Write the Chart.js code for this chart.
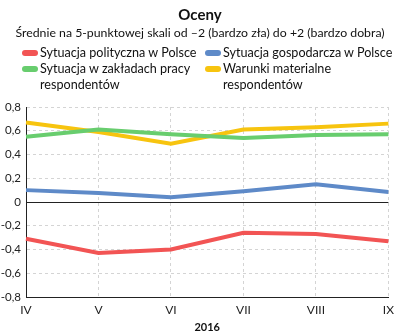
<!DOCTYPE html>
<html>
<head>
<meta charset="utf-8">
<script src="https://cdn.jsdelivr.net/npm/chart.js@4"></script>
<style>
  body { margin: 0; background: #fff; font-family: Lato, "Noto Sans", sans-serif; color: #111; }
  #box { position: relative; width: 400px; height: 334px; }
  #tytul { position: absolute; top: 5px; left: 0; width: 400px; text-align: center; font-weight: bold; font-size: 15px; }
  #podtytul { position: absolute; top: 25px; left: 0; width: 400px; text-align: center; font-size: 12.3px; }
  .leg { position: absolute; font-size: 12.6px; line-height: 16px; }
  .leg i { position: absolute; left: -18px; top: 5px; width: 16px; height: 6px; border-radius: 3px; }
</style>
</head>
<body>
<div id="box">
  <canvas id="wykres" width="400" height="334"></canvas>
  <div id="tytul">Oceny</div>
  <div id="podtytul">Średnie na 5-punktowej skali od –2 (bardzo zła) do +2 (bardzo dobra)</div>
  <div id="legenda"></div>
</div>
<script>
const miesiace = ['IV', 'V', 'VI', 'VII', 'VIII', 'IX']
const polityczna = [-0.31, -0.43, -0.40, -0.26, -0.27, -0.33]
const gospodarcza = [0.10, 0.075, 0.04, 0.09, 0.15, 0.085]
const zaklady = [0.55, 0.61, 0.57, 0.54, 0.565, 0.57]
const warunki = [0.67, 0.59, 0.49, 0.61, 0.63, 0.66]

const serie = [
    { nazwa: ['Sytuacja polityczna w Polsce'], kolor: '#f25454', dane: polityczna, x: 40, y: 45 },
    { nazwa: ['Sytuacja gospodarcza w Polsce'], kolor: '#5e8ac8', dane: gospodarcza, x: 223, y: 45 },
    { nazwa: ['Sytuacja w zakładach pracy', 'respondentów'], kolor: '#68cd6e', dane: zaklady, x: 40, y: 61 },
    { nazwa: ['Warunki materialne', 'respondentów'], kolor: '#f7c40f', dane: warunki, x: 223, y: 61 }
]

// legenda w HTML, bo etykiety mają po dwie linie
const legenda = document.getElementById('legenda')
serie.forEach(s => {
    const d = document.createElement('div')
    d.className = 'leg'
    d.style.left = s.x + 'px'
    d.style.top = s.y + 'px'
    d.innerHTML = '<i style="background:' + s.kolor + '"></i>' + s.nazwa.join('<br>')
    legenda.appendChild(d)
})

const mocnaLinia = v => v === 0 || v === -0.8

new Chart(document.getElementById('wykres'), {
    type: 'line',
    data: {
        labels: miesiace,
        datasets: serie.map(s => ({
            label: s.nazwa.join(' '),
            data: s.dane,
            borderColor: s.kolor,
            backgroundColor: s.kolor,
            borderWidth: 4,
            pointRadius: 0,
            tension: 0
        }))
    },
    options: {
        responsive: false,
        animation: false,
        layout: { padding: { top: 107, right: 6, left: 0, bottom: 0 } },
        plugins: { legend: { display: false }, title: { display: false }, tooltip: { enabled: false } },
        scales: {
            x: {
                offset: false,
                grid: { color: '#d4d4d4', drawTicks: false },
                border: { display: true, color: '#222', dash: [3, 3] },
                ticks: { color: '#222', padding: 6, font: { family: 'Lato', size: 12 } },
                title: { display: true, text: '2016', color: '#111', padding: { top: 4, bottom: 0 }, font: { family: 'Lato', size: 11, weight: 'bold' } },
                afterFit: sc => { sc.height = 37 }
            },
            y: {
                min: -0.8,
                max: 0.8,
                ticks: {
                    stepSize: 0.2,
                    color: '#222',
                    padding: 5,
                    font: { family: 'Lato', size: 11.5 },
                    callback: v => (Math.round(v * 10) / 10).toString().replace('.', ',')
                },
                grid: {
                    drawTicks: false,
                    color: ctx => mocnaLinia(Math.round(ctx.tick.value * 10) / 10) ? '#222' : '#d4d4d4'
                },
                border: {
                    display: true,
                    color: '#222',
                    dash: ctx => (ctx.tick && mocnaLinia(Math.round(ctx.tick.value * 10) / 10)) ? [] : [3, 3]
                },
                afterFit: sc => { sc.width = 26 }
            }
        }
    }
})
</script>
</body>
</html>
